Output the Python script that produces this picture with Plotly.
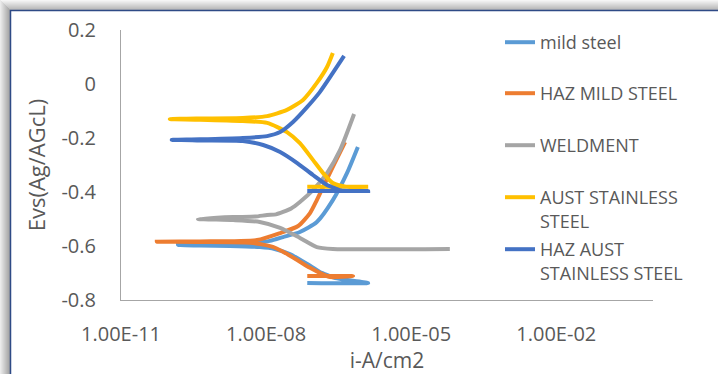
import plotly.graph_objects as go

# ---------------- data (current density A/cm2, potential V vs Ag/AgCl) ----------------
series_names = ["mild steel", "HAZ MILD STEEL", "WELDMENT",
                "AUST STAINLESS<br>STEEL", "HAZ AUST<br>STAINLESS STEEL"]
series_colors = ["#5B9BD5", "#ED7D31", "#A5A5A5", "#FFC000", "#4472C4"]

mild_i = [7.1e-8, 1.29e-6, 2.7e-7, 2.1e-7, 1.29e-7, 7.1e-8, 3.1e-8, 1.5e-8, 7.4e-9, 1.78e-9,
          4.3e-10, 1.51e-10, 1.12e-9, 4.7e-9, 1.2e-8, 2.24e-8, 5.0e-8, 1.12e-7, 2.4e-7, 4.7e-7, 7.9e-7]
mild_E = [-0.737, -0.737, -0.719, -0.711, -0.696, -0.667, -0.630, -0.611, -0.604, -0.600,
          -0.598, -0.596, -0.594, -0.589, -0.581, -0.567, -0.548, -0.511, -0.430, -0.330, -0.233]

haz_mild_i = [7.1e-8, 6.3e-7, 2.1e-7, 1.45e-7, 8.1e-8, 4.4e-8, 2.24e-8, 1.38e-8, 4.7e-9, 4.3e-10,
              5.5e-11, 4.3e-10, 6.5e-9, 1.95e-8, 4.6e-8, 8.1e-8, 1.12e-7, 2.4e-7, 4.3e-7]
haz_mild_E = [-0.711, -0.711, -0.715, -0.704, -0.681, -0.652, -0.621, -0.603, -0.588, -0.585,
              -0.584, -0.583, -0.578, -0.552, -0.526, -0.478, -0.430, -0.307, -0.215]

weld_i = [6.3e-5, 2.4e-7, 1.12e-7, 5.0e-8, 1.95e-8, 7.4e-9, 2.1e-9, 3.9e-10,
          2.1e-9, 6.0e-9, 1.05e-8, 1.6e-8, 2.24e-8, 3.3e-8, 5.0e-8, 9.3e-8, 1.82e-7, 3.4e-7, 6.6e-7]
weld_E = [-0.611, -0.611, -0.604, -0.570, -0.533, -0.511, -0.504, -0.500,
          -0.493, -0.491, -0.485, -0.483, -0.474, -0.461, -0.437, -0.393, -0.330, -0.244, -0.111]

aust_i = [7.1e-8, 1.29e-6, 4.7e-7, 2.4e-7, 1.51e-7, 9.3e-8, 5.0e-8, 2.7e-8, 1.05e-8, 3.3e-9,
          4.3e-10, 1.02e-10, 4.3e-10, 3.3e-9, 1.05e-8, 2.7e-8, 5.8e-8, 1.12e-7, 1.82e-7, 2.4e-7]
aust_E = [-0.381, -0.381, -0.381, -0.367, -0.330, -0.281, -0.219, -0.178, -0.144, -0.137,
          -0.132, -0.130, -0.128, -0.126, -0.119, -0.096, -0.059, 0.004, 0.063, 0.115]

haz_aust_i = [7.1e-8, 1.29e-6, 3.4e-7, 2.95e-7, 1.82e-7, 9.3e-8, 4.4e-8, 1.95e-8, 8.7e-9, 3.3e-9,
              4.3e-10, 1.12e-10, 4.3e-10, 3.3e-9, 1.05e-8, 1.95e-8, 3.6e-8, 7.1e-8, 1.29e-7, 2.4e-7, 4.1e-7]
haz_aust_E = [-0.396, -0.396, -0.394, -0.389, -0.374, -0.337, -0.293, -0.252, -0.226, -0.211,
              -0.209, -0.207, -0.205, -0.200, -0.193, -0.178, -0.141, -0.085, -0.030, 0.041, 0.104]

x_tickvals = [1e-11, 1e-8, 1e-5, 1e-2]
x_ticktext = ["1.00E-11", "1.00E-08", "1.00E-05", "1.00E-02"]
y_tickvals = [0.2, 0, -0.2, -0.4, -0.6, -0.8]
y_ticktext = ["0.2", "0", "-0.2", "-0.4", "-0.6", "-0.8"]

# ---------------- figure ----------------
W, H = 718, 374
L, R, T, B = 121, 65, 30, 74
PW, PH = W - L - R, H - T - B
FONT = "Open Sans"
TXT = "#595959"

def px(xp):
    return (xp - L) / PW

def py(yp):
    return (H - B - yp) / PH

all_data = [(mild_i, mild_E), (haz_mild_i, haz_mild_E), (weld_i, weld_E),
            (aust_i, aust_E), (haz_aust_i, haz_aust_E)]

fig = go.Figure()
legend_ids = ["legend", "legend2", "legend3", "legend4", "legend5"]
for k, ((xi, ye), name, col) in enumerate(zip(all_data, series_names, series_colors)):
    fig.add_trace(go.Scatter(
        x=xi, y=ye, mode="lines", name=name, showlegend=True,
        line=dict(color=col, width=4, shape="spline", smoothing=0.6),
        legend=legend_ids[k],
    ))

legend_y_px = [42, 93, 145, 197, 249]
legends = {}
for k, lid in enumerate(legend_ids):
    legends[lid] = dict(
        x=px(500), y=py(legend_y_px[k] - 18), xanchor="left", yanchor="top",
        bgcolor="rgba(0,0,0,0)", borderwidth=0,
        font=dict(family=FONT, size=18, color=TXT),
        valign="top", tracegroupgap=0, visible=True,
    )

# decorative window frame (gray shading and navy border)
shapes = []
n = 10
for j in range(n):
    g = int(245 - j * 7)
    col = f"rgb({g},{g},{g})"
    shapes.append(dict(type="rect", xref="paper", yref="paper", layer="above",
                       x0=px(0), x1=px(W), y0=py(j + 1), y1=py(j),
                       fillcolor=col, line=dict(width=0)))
for j in range(n):
    g = int(235 - j * 8)
    col = f"rgb({g},{g},{g})"
    shapes.append(dict(type="rect", xref="paper", yref="paper", layer="above",
                       x0=px(j), x1=px(j + 1), y0=py(H), y1=py(j),
                       fillcolor=col, line=dict(width=0)))
shapes.append(dict(type="line", xref="paper", yref="paper", layer="above",
                   x0=px(10), x1=px(W), y0=py(10.5), y1=py(10.5),
                   line=dict(color="#2E4A86", width=1.5)))
shapes.append(dict(type="line", xref="paper", yref="paper", layer="above",
                   x0=px(10.5), x1=px(10.5), y0=py(10), y1=py(H),
                   line=dict(color="#2E4A86", width=1.5)))

fig.update_layout(
    width=W, height=H,
    margin=dict(l=L, r=R, t=T, b=B, autoexpand=False),
    paper_bgcolor="white", plot_bgcolor="white",
    font=dict(family=FONT, color=TXT),
    showlegend=True,
    shapes=shapes,
    **legends,
)
fig.update_xaxes(
    type="log", range=[-11, 0], tickvals=x_tickvals, ticktext=x_ticktext,
    showgrid=False, zeroline=False, showline=True, linecolor="#A6A6A6", linewidth=1,
    ticks="", tickfont=dict(family=FONT, size=20, color=TXT), ticklabelstandoff=16,
    title=dict(text="i-A/cm2", font=dict(family=FONT, size=21, color=TXT), standoff=3),
)
fig.update_yaxes(
    range=[-0.8, 0.2], tickvals=y_tickvals, ticktext=y_ticktext,
    showgrid=False, zeroline=False, showline=True, linecolor="#A6A6A6", linewidth=1,
    ticks="", tickfont=dict(family=FONT, size=20, color=TXT), ticklabelstandoff=20,
    title=dict(text="Evs(Ag/AGcL)", font=dict(family=FONT, size=22, color=TXT), standoff=9),
)

fig.write_html("out.html", config={"displayModeBar": False},
               post_script="document.body.style.margin='0';")
